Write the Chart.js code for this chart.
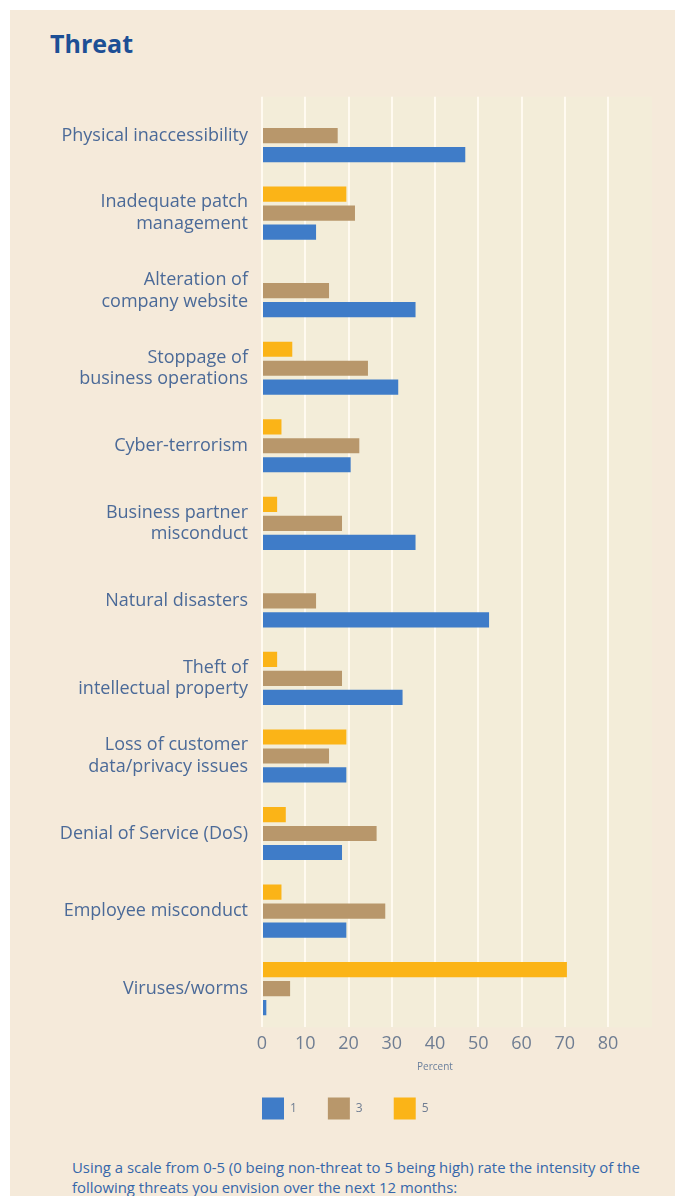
<!DOCTYPE html>
<html>
<head>
<meta charset="utf-8">
<script src="https://cdn.jsdelivr.net/npm/chart.js@4/dist/chart.umd.min.js"></script>
<style>
  html, body { margin: 0; padding: 0; background: #ffffff; }
  body { width: 681px; height: 1196px; position: relative; overflow: hidden; font-family: "Open Sans", sans-serif; }
  #panel { position: absolute; left: 10px; top: 10px; width: 665px; height: 1200px; background: #f5eada; }
  #title { position: absolute; left: 50px; top: 26px; font-size: 25px; font-weight: bold; color: #1d4f95; }
  #box { position: absolute; left: 0; top: 80px; width: 681px; height: 1056px; }
  #note { position: absolute; left: 72px; top: 1157px; font-size: 14.9px; line-height: 20px; color: #3567aa; white-space: nowrap; }
</style>
</head>
<body>
<div id="panel"></div>
<div id="title">Threat</div>
<div id="box"><canvas id="threatChart"></canvas></div>
<div id="note">Using a scale from 0-5 (0 being non-threat to 5 being high) rate the intensity of the<br>following threats you envision over the next 12 months:</div>

<script>
const threats = [
  "Physical inaccessibility",
  ["Inadequate patch", "management"],
  ["Alteration of", "company website"],
  ["Stoppage of", "business operations"],
  "Cyber-terrorism",
  ["Business partner", "misconduct"],
  "Natural disasters",
  ["Theft of", "intellectual property"],
  ["Loss of customer", "data/privacy issues"],
  "Denial of Service (DoS)",
  "Employee misconduct",
  "Viruses/worms"
];

// percent of respondents rating each threat 1, 3 and 5
const rating1 = [47, 12.5, 35.5, 31.5, 20.5, 35.5, 52.5, 32.5, 19.5, 18.5, 19.5, 1];
const rating3 = [17.5, 21.5, 15.5, 24.5, 22.5, 18.5, 12.5, 18.5, 15.5, 26.5, 28.5, 6.5];
const rating5 = [0, 19.5, 0, 7, 4.5, 3.5, 0, 3.5, 19.5, 5.5, 4.5, 70.5];

const xTicks = [0, 10, 20, 30, 40, 50, 60, 70, 80];

// light fill behind the plot (runs on a bit past 80), legend moved under the bars
const plotBg = {
  id: "plotBg",
  beforeDraw(chart) {
    const a = chart.chartArea;
    const ctx = chart.ctx;
    ctx.save();
    ctx.fillStyle = "#f3edd9";
    ctx.fillRect(a.left, a.top, a.right - a.left + 44, a.bottom - a.top);
    ctx.restore();
    chart.legend.left = a.left - 31;
    chart.legend.top = a.bottom + 39;
  }
};

new Chart(document.getElementById("threatChart"), {
  type: "bar",
  data: {
    labels: threats,
    datasets: [
      { label: "5", data: rating5, backgroundColor: "#fbb417" },
      { label: "3", data: rating3, backgroundColor: "#b8976b" },
      { label: "1", data: rating1, backgroundColor: "#3f7cc8" }
    ]
  },
  options: {
    indexAxis: "y",
    responsive: true,
    maintainAspectRatio: false,
    animation: false,
    layout: { padding: { top: 9, right: 73, left: 0, bottom: 0 } },
    datasets: { bar: { categoryPercentage: 0.735, barPercentage: 0.8 } },
    scales: {
      x: {
        min: 0,
        max: 80,
        afterBuildTicks(scale) { scale.ticks = xTicks.map(v => ({ value: v })); },
        ticks: {
          color: "#6f7d92",
          font: { family: "Open Sans", size: 18 },
          padding: 6
        },
        grid: { color: "#fffaf0", lineWidth: 2, drawTicks: false },
        border: { display: false },
        title: {
          display: true,
          text: "Percent",
          color: "#6a7f9c",
          font: { family: "Open Sans", size: 10 },
          padding: { top: 0, bottom: 0 }
        }
      },
      y: {
        afterFit(scale) { scale.width = 262; },
        ticks: {
          color: "#4b6a98",
          font: { family: "Open Sans", size: 18 },
          padding: 6
        },
        grid: { display: false },
        border: { display: false }
      }
    },
    plugins: {
      legend: {
        position: "bottom",
        align: "start",
        reverse: true,
        labels: {
          boxWidth: 22,
          boxHeight: 22,
          padding: 31,
          color: "#6f7d92",
          font: { family: "Open Sans", size: 12 }
        }
      },
      tooltip: { enabled: false }
    }
  },
  plugins: [plotBg]
});
</script>
</body>
</html>
